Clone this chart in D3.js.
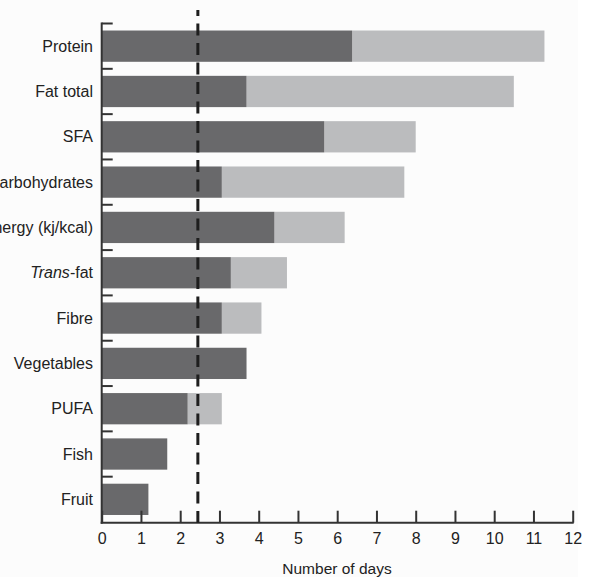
<!DOCTYPE html>
<html>
<head>
<meta charset="utf-8">
<script src="https://cdn.jsdelivr.net/npm/d3@7"></script>
<style>
  html, body { margin: 0; padding: 0; background: #ffffff; }
  svg { display: block; font-family: "Liberation Sans", Arial, sans-serif; }
</style>
</head>
<body>
<svg id="chart" width="590" height="577"></svg>
<script>
// Nutrient categories, top to bottom
const categories = ["Protein", "Fat total", "SFA", "Carbohydrates", "Energy (kj/kcal)",
  "Trans-fat", "Fibre", "Vegetables", "PUFA", "Fish", "Fruit"];
// Dark segment: number of days (first part of each bar)
const darkDays = [6.38, 3.69, 5.67, 3.06, 4.40, 3.29, 3.06, 3.69, 2.19, 1.67, 1.19];
// Full bar length in days (dark + light segment)
const totalDays = [11.28, 10.50, 8.00, 7.71, 6.19, 4.72, 4.07, 3.69, 3.06, 1.67, 1.19];
// Reference line position (days)
const referenceDays = 2.45;
const xTicks = [0, 1, 2, 3, 4, 5, 6, 7, 8, 9, 10, 11, 12];
const xTitle = "Number of days";

const svg = d3.select("#chart");
const plotLeft = 101.7, plotRight = 572.7, plotBottom = 522.7;

svg.append("rect").attr("x", 0).attr("y", 0).attr("width", 578).attr("height", 577)
  .attr("fill", "#fcfcfc");

const x = d3.scaleLinear().domain([0, 12]).range([plotLeft, plotRight]);
const y = d3.scaleBand().domain(categories).range([23.5, 522]).paddingInner(0.31).paddingOuter(0.155);

const rows = categories.map((c, i) => ({ c, dark: darkDays[i], total: totalDays[i] }));

// light (remaining) segments
svg.append("g").selectAll("rect").data(rows.filter(d => d.total > d.dark)).join("rect")
  .attr("x", d => x(d.dark))
  .attr("y", d => y(d.c))
  .attr("width", d => x(d.total) - x(d.dark))
  .attr("height", y.bandwidth())
  .attr("fill", "#bbbcbe");

// dark segments
svg.append("g").selectAll("rect").data(rows).join("rect")
  .attr("x", x(0))
  .attr("y", d => y(d.c))
  .attr("width", d => x(d.dark) - x(0))
  .attr("height", y.bandwidth())
  .attr("fill", "#69696b");

// y-axis boundary ticks
const boundaries = categories.map(c => y(c) - y.step() * y.paddingInner() / 2);
svg.append("g").selectAll("line").data(boundaries).join("line")
  .attr("x1", plotLeft).attr("x2", plotLeft + 11)
  .attr("y1", d => d).attr("y2", d => d)
  .attr("stroke", "#333").attr("stroke-width", 2);

svg.append("line").attr("x1", plotLeft).attr("x2", plotLeft)
  .attr("y1", boundaries[0] - 1).attr("y2", plotBottom + 1)
  .attr("stroke", "#333").attr("stroke-width", 2);

// category labels
svg.append("g").selectAll("text").data(categories).join("text")
  .attr("x", 93)
  .attr("y", d => y(d) + y.bandwidth() / 2)
  .attr("dy", "0.35em")
  .attr("text-anchor", "end")
  .attr("font-size", 16)
  .attr("fill", "#222")
  .each(function(d) {
    const t = d3.select(this);
    if (d === "Trans-fat") {
      t.append("tspan").attr("font-style", "italic").text("Trans");
      t.append("tspan").text("-fat");
    } else {
      t.text(d);
    }
  });

// x axis
const xAxis = d3.axisBottom(x).tickValues(xTicks).tickSize(-12).tickPadding(10).tickFormat(d3.format("d"));
const gx = svg.append("g").attr("transform", `translate(0,${plotBottom})`).call(xAxis);
gx.select(".domain").attr("stroke", "#333").attr("stroke-width", 2).attr("d", `M${plotLeft - 1},0H${plotRight + 1}`);
gx.selectAll(".tick line").attr("stroke", "#333").attr("stroke-width", 2);
gx.selectAll(".tick text").attr("font-size", 16).attr("fill", "#222")
  .attr("font-family", "Liberation Sans, Arial, sans-serif");

svg.append("text").attr("x", 337).attr("y", 573.5)
  .attr("text-anchor", "middle").attr("font-size", 15.5).attr("fill", "#222")
  .text(xTitle);

// dashed reference line
svg.append("line")
  .attr("x1", x(referenceDays)).attr("x2", x(referenceDays))
  .attr("y1", 10).attr("y2", plotBottom)
  .attr("stroke", "#1e1e1e").attr("stroke-width", 3)
  .attr("stroke-dasharray", "12,7.5")
  .attr("stroke-dashoffset", 6);
</script>
</body>
</html>
